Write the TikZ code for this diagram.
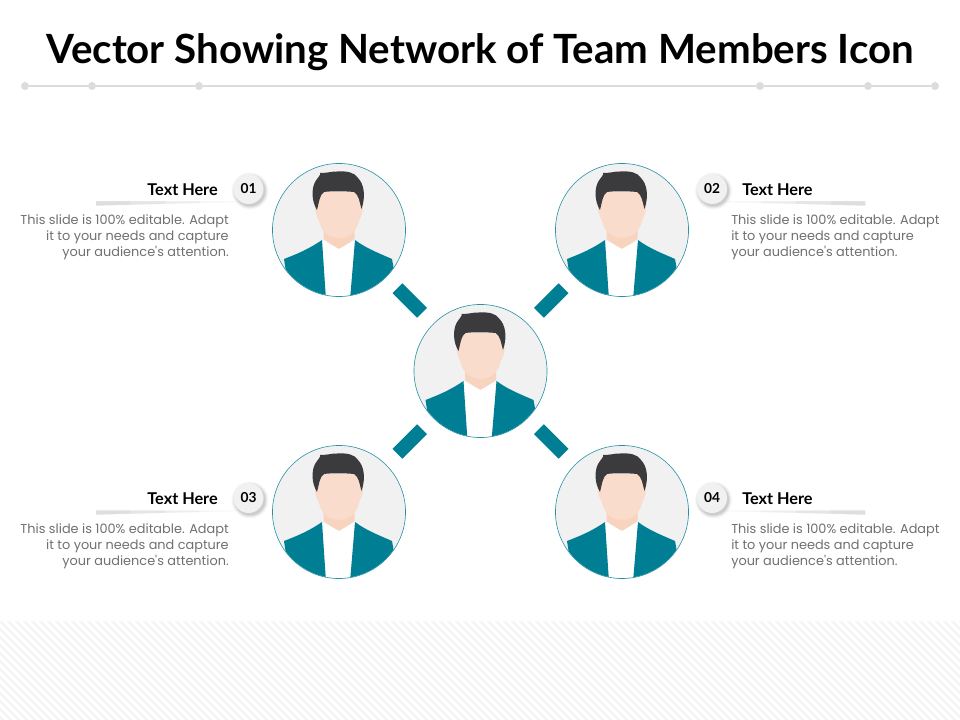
\documentclass[tikz,border=0pt]{standalone}
\usepackage{fontspec}
\setmainfont{Lato}
\newfontfamily\bodyf{Poppins}
\definecolor{teal1}{HTML}{007F94}
\definecolor{disc}{HTML}{F1F1F2}
\definecolor{hair}{HTML}{3B3B3D}
\definecolor{skin}{HTML}{F9DCCB}
\definecolor{skinb}{HTML}{F8D4BF}
\definecolor{rule}{HTML}{DCDCDC}
\definecolor{stripe}{HTML}{F4F4F4}
\definecolor{bodyc}{HTML}{707070}
\tikzset{
  x=0.75pt,y=-0.75pt,
  portrait/.style={circle,fill=disc,minimum size=99.75pt,inner sep=0pt,outer sep=0pt},
  linkbar/.style={draw=teal1,line width=10.5pt,shorten >=12pt,shorten <=12pt},
  badge/.style={circle,fill=disc,minimum size=22.5pt,inner sep=0pt,outer sep=0pt,font=\bfseries\fontsize{10.3}{12}\selectfont,text=black},
  headtext/.style={font=\bfseries\fontsize{12.2}{14}\selectfont,text=black,inner sep=0pt},
  bodytext/.style={font=\bodyf\fontsize{9.65}{12}\selectfont,text=bodyc,inner sep=0pt},
  dot/.style={circle,fill=rule,minimum size=6pt,inner sep=0pt,outer sep=0pt},
  person/.pic={
    \begin{scope}
      \clip (0,0) circle (49.7pt);
      \fill[skinb] (-15.5,-10) -- (-15.5,9) -- (0,19.5) -- (15.5,9) -- (15.5,-10) -- cycle;
      \fill[white] (-17,10) -- (0,19) -- (16,10) -- (11,70) -- (-13,70) -- cycle;
      \fill[teal1] (-17,10) .. controls (-30,19) and (-42,24) .. (-55,29) -- (-53,42) -- (-40,70) -- (-13,70) -- cycle;
      \fill[teal1] (16,10) .. controls (28,19) and (42,24) .. (53,29) -- (55,40) -- (40,70) -- (11,70) -- cycle;
      \fill[skin] (-20,-38) .. controls (-21,-28) and (-25,-26) .. (-24,-20)
         .. controls (-23,-14) and (-21,-13) .. (-20,-9)
         .. controls (-18,-1) and (-15,3) .. (-9,6)
         .. controls (-4,8.5) and (4,8.5) .. (9,6)
         .. controls (15,3) and (18,-1) .. (20,-9)
         .. controls (21,-13) and (23,-14) .. (24,-20)
         .. controls (25,-26) and (21,-28) .. (20,-38) -- cycle;
      \fill[hair] (-22,-20) .. controls (-27,-28) and (-28,-40) .. (-24,-48)
         .. controls (-21,-53) and (-18,-55) .. (-19,-57)
         .. controls (-10,-57) and (-6,-59) .. (-2,-58.5)
         .. controls (8,-59) and (15,-58) .. (19,-52)
         .. controls (25,-46) and (27,-34) .. (22.5,-21)
         .. controls (20.5,-28) and (20,-35) .. (15,-38)
         .. controls (5,-39) and (-8,-39) .. (-15,-38)
         .. controls (-19,-36) and (-20,-28) .. (-22,-20) -- cycle;
    \end{scope}
  }
}
\newcommand{\softshadow}[2]{%
  \foreach \rr/\oo in {18.5/.03,17.5/.04,16.5/.06,15.5/.08}{\fill[black,opacity=\oo] (#1+1.5,#2+2) circle (\rr*0.75pt);}%
}
\begin{document}
\begin{tikzpicture}
\useasboundingbox (0,0) rectangle (960,720);
\fill[white] (0,0) rectangle (960,720);
% patterned footer
\begin{scope}
  \clip (0,621) rectangle (960,720);
  \foreach \i in {-12,...,120}{\draw[stripe,line width=1.7pt] (\i*8,621) -- (\i*8+99,720);}
\end{scope}
% title
\node[font=\bfseries\fontsize{30.2}{36}\selectfont,text=black,inner sep=0pt] (title) at (480,52) {Vector Showing Network of Team Members Icon};
% rule
\node[dot] (r1) at (25,86) {};
\node[dot] (r2) at (92,86) {};
\node[dot] (r3) at (199,86) {};
\node[dot] (r4) at (760,86) {};
\node[dot] (r5) at (868,86) {};
\node[dot] (r6) at (935,86) {};
\draw[rule,line width=1.7pt] (r1) -- (r2) -- (r3) -- (r4) -- (r5) -- (r6);
% portraits
\node[portrait] (c) at (480.5,371) {};
\node[portrait] (tl) at (339,230) {};
\node[portrait] (tr) at (622,230) {};
\node[portrait] (bl) at (339,512) {};
\node[portrait] (br) at (622,512) {};
\foreach \n in {c,tl,tr,bl,br}{
  \pic at (\n) {person};
  \draw[teal1!85,line width=0.45pt] (\n.center) circle (49.9pt);
}
\draw[linkbar] (tl) -- (c);
\draw[linkbar] (tr) -- (c);
\draw[linkbar] (bl) -- (c);
\draw[linkbar] (br) -- (c);
% left callouts
\foreach \yy/\num/\nm in {189/01/a,498/03/c}{
  \foreach \xe/\tt/\cc in {235/13.2/4,200/13.9/7,165/14.6/10,130/15.4/13}{
    \fill[black!\cc] (96,\yy+12.5) -- (\xe,\yy+12.5) -- (\xe,\yy+\tt) -- (96,\yy+16.5) -- cycle;
  }
  \softshadow{248.5}{\yy}
  \node[badge] (b\nm) at (248.5,\yy) {\num};
  \node[headtext,anchor=east] (h\nm) at (218,\yy+1) {Text Here};
  \node[bodytext,anchor=north east,align=right] (t\nm) at (229,\yy+25.5) {This slide is 100\% editable. Adapt\\it to your needs and capture\\your audience's attention.};
}
% right callouts
\foreach \yy/\num/\nm in {189/02/b,498/04/d}{
  \foreach \xs/\tt/\cc in {726/13.2/4,761/13.9/7,796/14.6/10,831/15.4/13}{
    \fill[black!\cc] (\xs,\yy+12.5) -- (865,\yy+12.5) -- (865,\yy+16.5) -- (\xs,\yy+\tt) -- cycle;
  }
  \softshadow{712}{\yy}
  \node[badge] (b\nm) at (712,\yy) {\num};
  \node[headtext,anchor=west] (h\nm) at (742,\yy+1) {Text Here};
  \node[bodytext,anchor=north west,align=left] (t\nm) at (731,\yy+25.5) {This slide is 100\% editable. Adapt\\it to your needs and capture\\your audience's attention.};
}
\end{tikzpicture}
\end{document}
